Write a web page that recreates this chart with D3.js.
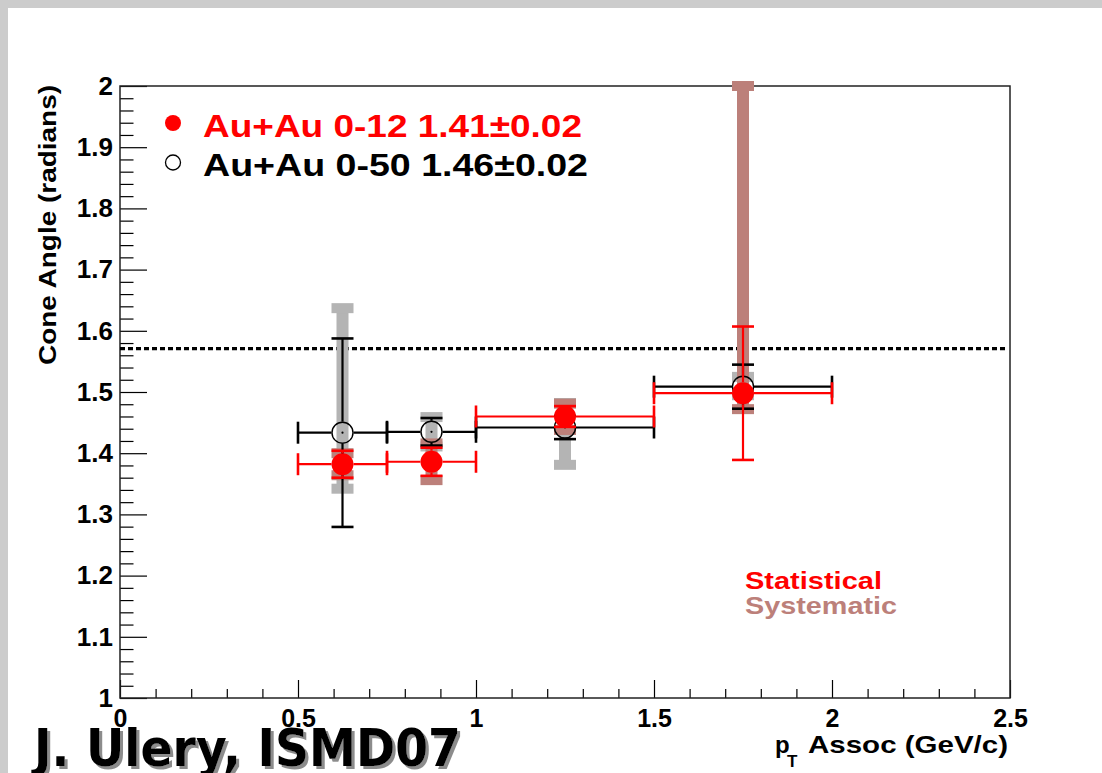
<!DOCTYPE html>
<html>
<head>
<meta charset="utf-8">
<script src="https://cdn.jsdelivr.net/npm/d3@7"></script>
<style>
  html, body { margin: 0; padding: 0; background: #ffffff; }
  svg { display: block; }
  text { font-family: "Liberation Sans", Arial, sans-serif; font-weight: bold; }
</style>
</head>
<body>
<svg id="chart" width="1102" height="773"></svg>
<script>
// pT bins (GeV/c): centres and bin edges
const binCenters = [0.625, 0.875, 1.25, 1.75];
const binLow     = [0.5, 0.75, 1.0, 1.5];
const binHigh    = [0.75, 1.0, 1.5, 2.0];

// Au+Au 0-12% : cone angle, statistical and systematic errors
const central      = [1.382, 1.386, 1.460, 1.498];
const centralStat  = [0.022, 0.023, 0.017, 0.109];
const centralSysUp = [0.018, 0.030, 0.021, 0.502];
const centralSysDn = [0.018, 0.030, 0.022, 0.026];

// Au+Au 0-50% : cone angle, statistical and systematic errors
const minbias      = [1.4335, 1.435, 1.442, 1.5087];
const minbiasStat  = [0.154, 0.0225, 0.019, 0.036];
const minbiasSysUp = [0.2035, 0.024, 0.040, 0.016];
const minbiasSysDn = [0.0915, 0.024, 0.061, 0.014];

// reference level pi/2
const refLevel = Math.PI / 2;

const xTicks = [0, 0.5, 1, 1.5, 2, 2.5];
const xTickLabels = ["0", "0.5", "1", "1.5", "2", "2.5"];
const yTicks = [1, 1.1, 1.2, 1.3, 1.4, 1.5, 1.6, 1.7, 1.8, 1.9, 2];
const yTickLabels = ["1", "1.1", "1.2", "1.3", "1.4", "1.5", "1.6", "1.7", "1.8", "1.9", "2"];

const legendLabels = ["Au+Au 0-12 1.41\u00B10.02", "Au+Au 0-50 1.46\u00B10.02"];

const RED = "#ff0000";
const BROWN = "#bc807a";
const GRAY = "#b4b4b4";

const svg = d3.select("#chart");

// drop shadow for the author tag
const defs = svg.append("defs");
defs.append("filter").attr("id", "tagShadow").attr("x", "-5%").attr("y", "-20%")
  .attr("width", "115%").attr("height", "150%")
  .append("feDropShadow").attr("dx", 3).attr("dy", 3).attr("stdDeviation", 0.6)
  .attr("flood-color", "#8c8c8c").attr("flood-opacity", 1);

// grey canvas border
svg.append("rect").attr("x", 0).attr("y", 0).attr("width", 1102).attr("height", 8).attr("fill", "#cccccc");
svg.append("rect").attr("x", 0).attr("y", 0).attr("width", 8).attr("height", 773).attr("fill", "#cccccc");

const frameL = 120, frameR = 1010, frameT = 86, frameB = 698;
const x = d3.scaleLinear().domain([0, 2.5]).range([frameL, frameR]);
const y = d3.scaleLinear().domain([1, 2]).range([frameB, frameT]);

// minor ticks
const yMinor = d3.range(1, 2.0001, 0.02).filter(v => Math.abs(v * 10 - Math.round(v * 10)) > 1e-6);
const xMinor = d3.range(0, 2.5001, 0.1).filter(v => Math.abs(v * 2 - Math.round(v * 2)) > 1e-6);

svg.append("g").attr("transform", `translate(${frameL},0)`)
  .call(d3.axisLeft(y).tickValues(yMinor).tickSize(-13.5).tickSizeOuter(0).tickFormat(""))
  .call(g => g.select(".domain").remove())
  .selectAll("line").attr("stroke", "#000").attr("stroke-width", 1.2);

svg.append("g").attr("transform", `translate(0,${frameB})`)
  .call(d3.axisBottom(x).tickValues(xMinor).tickSize(-9).tickSizeOuter(0).tickFormat(""))
  .call(g => g.select(".domain").remove())
  .selectAll("line").attr("stroke", "#000").attr("stroke-width", 1.2);

// major ticks and labels
const yAxis = svg.append("g").attr("transform", `translate(${frameL},0)`)
  .call(d3.axisLeft(y).tickValues(yTicks).tickSize(-27).tickSizeOuter(0).tickPadding(7)
    .tickFormat((d, i) => yTickLabels[i]))
  .call(g => g.select(".domain").remove());
yAxis.selectAll("line").attr("stroke", "#000").attr("stroke-width", 1.2);
yAxis.selectAll("text").attr("font-size", 26).attr("font-family", "Liberation Sans, Arial, sans-serif")
  .attr("font-weight", "bold").attr("fill", "#000");

const xAxis = svg.append("g").attr("transform", `translate(0,${frameB})`)
  .call(d3.axisBottom(x).tickValues(xTicks).tickSize(-18).tickSizeOuter(0).tickPadding(11)
    .tickFormat((d, i) => xTickLabels[i]))
  .call(g => g.select(".domain").remove());
xAxis.selectAll("line").attr("stroke", "#000").attr("stroke-width", 1.2);
xAxis.selectAll("text").attr("font-size", 25).attr("font-family", "Liberation Sans, Arial, sans-serif")
  .attr("font-weight", "bold").attr("fill", "#000");

// frame
svg.append("rect").attr("x", frameL).attr("y", frameT).attr("width", frameR - frameL).attr("height", frameB - frameT)
  .attr("fill", "none").attr("stroke", "#222").attr("stroke-width", 1.5);

// pi/2 reference line
svg.append("line").attr("x1", frameL).attr("x2", frameR - 4).attr("y1", y(refLevel)).attr("y2", y(refLevel))
  .attr("stroke", "#000").attr("stroke-width", 3.2).attr("stroke-dasharray", "5,3");

// systematic error boxes
function drawSys(vals, up, dn, color) {
  const g = svg.append("g").attr("fill", color);
  vals.forEach((v, i) => {
    const cx = x(binCenters[i]);
    const yTop = y(v + up[i]), yBot = y(v - dn[i]);
    g.append("rect").attr("x", cx - 6).attr("y", yTop).attr("width", 12).attr("height", yBot - yTop);
    g.append("rect").attr("x", cx - 11).attr("y", yTop - 5).attr("width", 22).attr("height", 10);
    g.append("rect").attr("x", cx - 11).attr("y", yBot - 5).attr("width", 22).attr("height", 10);
  });
}
drawSys(minbias, minbiasSysUp, minbiasSysDn, GRAY);
drawSys(central, centralSysUp, centralSysDn, BROWN);

// statistical error bars with markers
const R = 11;
function drawStat(vals, err, color, filled) {
  const g = svg.append("g").attr("stroke", color).attr("stroke-width", 2.2).attr("fill", "none");
  vals.forEach((v, i) => {
    const cx = x(binCenters[i]), cy = y(v);
    const yT = y(v + err[i]), yB = y(v - err[i]);
    const xL = x(binLow[i]), xR = x(binHigh[i]);
    if (cy - R > yT) g.append("line").attr("x1", cx).attr("x2", cx).attr("y1", yT).attr("y2", cy - R);
    if (cy + R < yB) g.append("line").attr("x1", cx).attr("x2", cx).attr("y1", cy + R).attr("y2", yB);
    g.append("line").attr("x1", cx - 11).attr("x2", cx + 11).attr("y1", yT).attr("y2", yT).attr("stroke-width", 2.6);
    g.append("line").attr("x1", cx - 11).attr("x2", cx + 11).attr("y1", yB).attr("y2", yB).attr("stroke-width", 2.6);
    g.append("line").attr("x1", xL).attr("x2", cx - R).attr("y1", cy).attr("y2", cy);
    g.append("line").attr("x1", cx + R).attr("x2", xR).attr("y1", cy).attr("y2", cy);
    g.append("line").attr("x1", xL).attr("x2", xL).attr("y1", cy - 11).attr("y2", cy + 11).attr("stroke-width", 2.6);
    g.append("line").attr("x1", xR).attr("x2", xR).attr("y1", cy - 11).attr("y2", cy + 11).attr("stroke-width", 2.6);
  });
  const m = svg.append("g");
  vals.forEach((v, i) => {
    const cx = x(binCenters[i]), cy = y(v);
    if (filled) {
      m.append("circle").attr("cx", cx).attr("cy", cy).attr("r", R).attr("fill", color);
    } else {
      m.append("circle").attr("cx", cx).attr("cy", cy).attr("r", R - 0.5)
        .attr("fill", "none").attr("stroke", color).attr("stroke-width", 1.4);
      m.append("circle").attr("cx", cx).attr("cy", cy).attr("r", 1.1).attr("fill", color);
    }
  });
}
drawStat(minbias, minbiasStat, "#000", false);
drawStat(central, centralStat, RED, true);

// legend
svg.append("circle").attr("cx", 173).attr("cy", 123).attr("r", 8).attr("fill", RED);
svg.append("circle").attr("cx", 173).attr("cy", 162.5).attr("r", 7.5).attr("fill", "none")
  .attr("stroke", "#000").attr("stroke-width", 1.3);
svg.append("text").attr("x", 203).attr("y", 137).attr("font-size", 32).attr("fill", RED)
  .attr("textLength", 379).attr("lengthAdjust", "spacingAndGlyphs").text(legendLabels[0]);
svg.append("text").attr("x", 203).attr("y", 176).attr("font-size", 32).attr("fill", "#000")
  .attr("textLength", 385).attr("lengthAdjust", "spacingAndGlyphs").text(legendLabels[1]);

// error type key
svg.append("text").attr("x", 745).attr("y", 588.5).attr("font-size", 24).attr("fill", RED)
  .attr("textLength", 137).attr("lengthAdjust", "spacingAndGlyphs").text("Statistical");
svg.append("text").attr("x", 745).attr("y", 613.5).attr("font-size", 24).attr("fill", BROWN)
  .attr("textLength", 152).attr("lengthAdjust", "spacingAndGlyphs").text("Systematic");

// axis titles
svg.append("text").attr("transform", "translate(56,365) rotate(-90)").attr("font-size", 24)
  .attr("fill", "#000").attr("textLength", 280).attr("lengthAdjust", "spacingAndGlyphs")
  .text("Cone Angle (radians)");

const xt = svg.append("text").attr("fill", "#000");
xt.append("tspan").attr("x", 775).attr("y", 753).attr("font-size", 24).text("p");
xt.append("tspan").attr("x", 787).attr("y", 767).attr("font-size", 17).text("T");
xt.append("tspan").attr("x", 808).attr("y", 753).attr("font-size", 24)
  .attr("textLength", 200).attr("lengthAdjust", "spacingAndGlyphs").text("Assoc (GeV/c)");

// author tag
svg.append("text").attr("x", 34).attr("y", 766).attr("font-size", 52)
  .style("font-family", "'DejaVu Sans', Verdana, sans-serif").attr("fill", "#000")
  .attr("filter", "url(#tagShadow)")
  .attr("textLength", 427).attr("lengthAdjust", "spacingAndGlyphs").text("J. Ulery, ISMD07");
</script>
</body>
</html>
